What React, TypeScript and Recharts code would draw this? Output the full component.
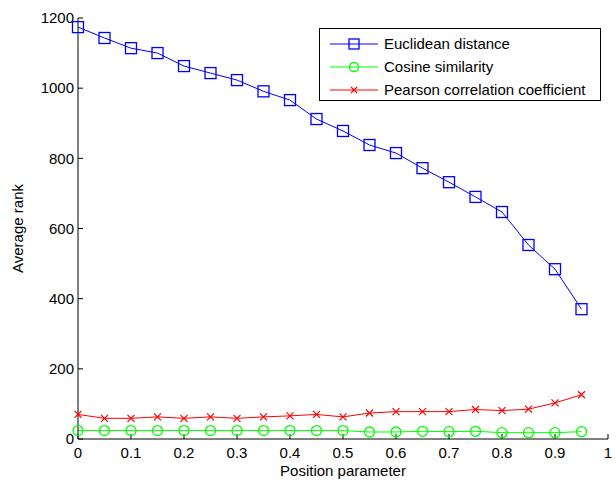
import {
  LineChart,
  Line,
  XAxis,
  YAxis,
  Legend,
} from 'recharts'

const positions = [0, 0.05, 0.1, 0.15, 0.2, 0.25, 0.3, 0.35, 0.4, 0.45, 0.5, 0.55, 0.6, 0.65, 0.7, 0.75, 0.8, 0.85, 0.9, 0.95]
const euclidean = [1174, 1143, 1114, 1100, 1063, 1043, 1023, 991, 966, 912, 878, 838, 815, 772, 732, 690, 647, 553, 484, 370]
const cosine = [24, 24, 24, 24, 24, 24, 24, 24, 24, 24, 24, 20, 20, 22, 21, 22, 18, 18, 18, 21]
const pearson = [70, 59, 59, 63, 59, 63, 59, 63, 66, 70, 63, 74, 78, 78, 78, 84, 81, 85, 103, 126]

const xTicks = [0, 0.1, 0.2, 0.3, 0.4, 0.5, 0.6, 0.7, 0.8, 0.9, 1]
const yTicks = [0, 200, 400, 600, 800, 1000, 1200]

const chartData = positions.map((x, i) => ({
  x,
  euclidean: euclidean[i],
  cosine: cosine[i],
  pearson: pearson[i],
}))

const FONT = 'Arial, "Liberation Sans", sans-serif'
const tickStyle = { fill: '#000', fontSize: 15, fontFamily: FONT }

const BLUE = '#0000ff'
const GREEN = '#00ff00'
const RED = '#ff0000'

const squareDot = (props: any) => {
  const { cx, cy, index } = props
  return <rect key={`sq-${index}`} x={cx - 5.5} y={cy - 5.5} width={11} height={11} fill="none" stroke={BLUE} strokeWidth={1.3} />
}

const circleDot = (props: any) => {
  const { cx, cy, index } = props
  return <circle key={`ci-${index}`} cx={cx} cy={cy} r={5} fill="none" stroke={GREEN} strokeWidth={1.3} />
}

const crossDot = (props: any) => {
  const { cx, cy, index } = props
  return (
    <path
      key={`cr-${index}`}
      d={`M${cx - 3.5},${cy - 3.5}L${cx + 3.5},${cy + 3.5}M${cx - 3.5},${cy + 3.5}L${cx + 3.5},${cy - 3.5}`}
      stroke={RED}
      strokeWidth={1.2}
    />
  )
}

const legendItems = [
  { name: 'Euclidean distance', color: BLUE, marker: 'square' },
  { name: 'Cosine similarity', color: GREEN, marker: 'circle' },
  { name: 'Pearson correlation coefficient', color: RED, marker: 'cross' },
]

function renderLegend() {
  return (
    <div
      style={{
        border: '1px solid #000',
        background: '#fff',
        width: 282,
        height: 73,
        boxSizing: 'border-box',
        paddingTop: 3,
        fontFamily: FONT,
        fontSize: 15,
      }}
    >
      {legendItems.map((item) => (
        <div key={item.name} style={{ display: 'flex', alignItems: 'center', height: 23 }}>
          <svg width={62} height={14} style={{ marginLeft: 8 }}>
            <line x1={2} y1={7} x2={50} y2={7} stroke={item.color} strokeWidth={1} />
            {item.marker === 'square' && (
              <rect x={21} y={2} width={10} height={10} fill="none" stroke={item.color} strokeWidth={1.3} />
            )}
            {item.marker === 'circle' && <circle cx={26} cy={7} r={4.5} fill="none" stroke={item.color} strokeWidth={1.3} />}
            {item.marker === 'cross' && (
              <path d="M23,4L29,10M23,10L29,4" stroke={item.color} strokeWidth={1.2} />
            )}
          </svg>
          <span style={{ color: '#000', marginLeft: -6 }}>{item.name}</span>
        </div>
      ))}
    </div>
  )
}

export default function App() {
  return (
    <div style={{ position: 'absolute', left: 0, top: 0, background: '#fff' }}>
      <LineChart width={616} height={484} data={chartData} margin={{ top: 18, right: 8, left: 18, bottom: 0 }}>
        <XAxis
          xAxisId="bottom"
          dataKey="x"
          type="number"
          domain={[0, 1]}
          ticks={xTicks}
          height={45}
          stroke="#000"
          tickSize={-5}
          tickMargin={13}
          tick={tickStyle}
          label={{ value: 'Position parameter', position: 'insideBottom', offset: 8, fill: '#000', fontSize: 15, fontFamily: FONT }}
        />
        <XAxis
          xAxisId="top"
          orientation="top"
          type="number"
          domain={[0, 1]}
          ticks={xTicks}
          height={0}
          stroke="#000"
          tickSize={-5}
          tick={false}
        />
        <YAxis
          yAxisId="left"
          type="number"
          domain={[0, 1200]}
          ticks={yTicks}
          width={60}
          stroke="#000"
          tickSize={-5}
          tickMargin={9}
          tick={tickStyle}
          label={{ value: 'Average rank', angle: -90, position: 'center', dx: -30, fill: '#000', fontSize: 15, fontFamily: FONT }}
        />
        <YAxis
          yAxisId="right"
          orientation="right"
          type="number"
          domain={[0, 1200]}
          ticks={yTicks}
          width={0}
          stroke="#000"
          tickSize={-5}
          tick={false}
        />
        <Legend
          layout="vertical"
          align="center"
          verticalAlign="middle"
          content={renderLegend}
          wrapperStyle={{ left: 319, top: 28, width: 282 }}
        />
        <Line
          xAxisId="bottom"
          yAxisId="left"
          dataKey="euclidean"
          name="Euclidean distance"
          stroke={BLUE}
          strokeWidth={1}
          dot={squareDot}
          isAnimationActive={false}
        />
        <Line
          xAxisId="bottom"
          yAxisId="left"
          dataKey="cosine"
          name="Cosine similarity"
          stroke={GREEN}
          strokeWidth={1}
          dot={circleDot}
          isAnimationActive={false}
        />
        <Line
          xAxisId="bottom"
          yAxisId="left"
          dataKey="pearson"
          name="Pearson correlation coefficient"
          stroke={RED}
          strokeWidth={1}
          dot={crossDot}
          isAnimationActive={false}
        />
      </LineChart>
    </div>
  )
}
